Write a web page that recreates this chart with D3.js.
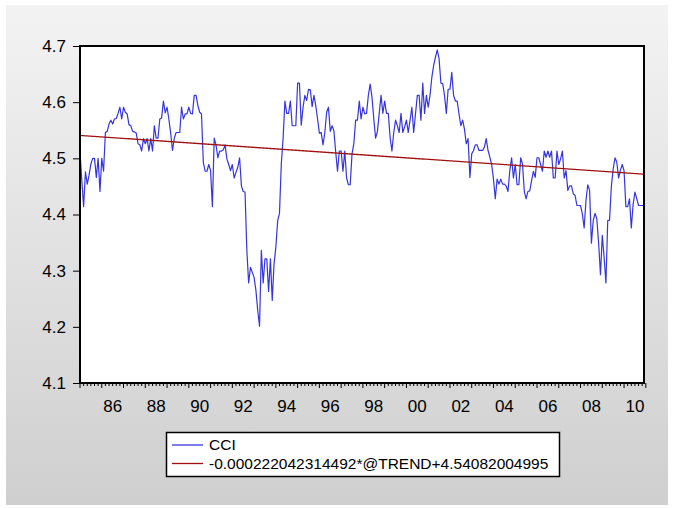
<!DOCTYPE html>
<html><head><meta charset="utf-8">
<script src="https://cdn.jsdelivr.net/npm/d3@7"></script>
<style>body{margin:0;background:#fff;}svg{display:block;font-family:"Liberation Sans",Arial,sans-serif;}</style>
</head><body><svg id="c" width="678" height="508"></svg>
<script>
const startYear = 1985;
const cci = [
4.513,4.46,4.414,4.476,4.454,4.47,4.49,4.50,4.50,4.466,4.50,4.441,
4.50,4.477,4.546,4.548,4.561,4.568,4.561,4.570,4.571,4.58,4.591,4.570,
4.591,4.582,4.579,4.560,4.558,4.548,4.547,4.545,4.526,4.524,4.513,4.535,
4.526,4.535,4.513,4.535,4.513,4.558,4.536,4.536,4.570,4.572,4.602,4.581,
4.591,4.570,4.545,4.514,4.536,4.546,4.546,4.546,4.591,4.570,4.579,4.579,
4.591,4.58,4.579,4.612,4.612,4.594,4.582,4.579,4.493,4.477,4.477,4.489,
4.478,4.414,4.536,4.524,4.501,4.513,4.513,4.515,4.524,4.499,4.489,4.478,
4.489,4.465,4.475,4.484,4.501,4.451,4.441,4.44,4.336,4.278,4.306,4.297,
4.288,4.265,4.229,4.201,4.336,4.278,4.321,4.321,4.263,4.321,4.247,4.312,
4.342,4.389,4.402,4.49,4.536,4.602,4.58,4.58,4.602,4.558,4.558,4.558,
4.634,4.634,4.559,4.591,4.612,4.603,4.623,4.622,4.592,4.612,4.594,4.57,
4.545,4.546,4.524,4.546,4.582,4.591,4.548,4.558,4.549,4.511,4.477,4.513,
4.513,4.477,4.513,4.465,4.453,4.453,4.508,4.526,4.568,4.568,4.602,4.57,
4.591,4.579,4.58,4.612,4.632,4.609,4.57,4.536,4.548,4.58,4.612,4.58,
4.602,4.58,4.58,4.537,4.513,4.546,4.568,4.558,4.546,4.58,4.546,4.556,
4.568,4.546,4.568,4.591,4.546,4.579,4.612,4.612,4.568,4.634,4.58,4.612,
4.591,4.612,4.644,4.665,4.68,4.693,4.677,4.634,4.633,4.612,4.58,4.623,
4.623,4.653,4.612,4.602,4.602,4.579,4.558,4.568,4.552,4.526,4.535,4.466,
4.508,4.514,4.524,4.524,4.514,4.514,4.514,4.52,4.535,4.514,4.502,4.489,
4.463,4.428,4.463,4.454,4.463,4.454,4.454,4.451,4.441,4.478,4.501,4.465,
4.489,4.453,4.453,4.501,4.49,4.441,4.428,4.441,4.442,4.46,4.477,4.466,
4.501,4.501,4.489,4.477,4.513,4.502,4.513,4.502,4.513,4.465,4.465,4.513,
4.489,4.499,4.513,4.465,4.478,4.443,4.451,4.451,4.437,4.434,4.416,4.416,
4.416,4.401,4.376,4.425,4.453,4.443,4.349,4.389,4.402,4.392,4.348,4.293,
4.363,4.324,4.278,4.389,4.39,4.45,4.481,4.501,4.493,4.465,4.479,4.489,
4.478,4.414,4.414,4.428,4.376,4.418,4.44,4.428,4.416,4.416,4.416,4.416
];
const trendSlope = -0.000222042314492;
const trendIntercept = 4.54082004995;
const yTicks = [4.1,4.2,4.3,4.4,4.5,4.6,4.7];
const xLabelYears = [1986,1988,1990,1992,1994,1996,1998,2000,2002,2004,2006,2008,2010];
const legendLabels = ["CCI","-0.000222042314492*@TREND+4.54082004995"];
const colors = ["#3535e0","#a01010"];

const svg = d3.select("#c");
const defs = svg.append("defs");
const g = defs.append("linearGradient").attr("id","bg").attr("x1",0).attr("y1",0).attr("x2",0).attr("y2",1);
g.append("stop").attr("offset","0%").attr("stop-color","#f3f3f3");
g.append("stop").attr("offset","100%").attr("stop-color","#cfcfcf");
svg.append("rect").attr("x",6).attr("y",5).attr("width",662).attr("height",500).attr("fill","url(#bg)");

const L=80,R=644,T=46,B=383;
const n = cci.length;
const x = d3.scaleLinear().domain([0,n-1]).range([L,R]);
const y = d3.scaleLinear().domain([4.1,4.7]).range([B,T]);

svg.append("rect").attr("x",L).attr("y",T).attr("width",R-L).attr("height",B-T).attr("fill","#fff");

const trend = cci.map((_,i)=>trendIntercept+trendSlope*i);
const line = d3.line().x((d,i)=>x(i)).y(d=>y(d));
svg.append("path").datum(cci).attr("d",line).attr("fill","none").attr("stroke",colors[0]).attr("stroke-width",1.2).attr("stroke-linejoin","round");
svg.append("path").datum(trend).attr("d",line).attr("fill","none").attr("stroke",colors[1]).attr("stroke-width",1.3);

const yAxis = d3.axisLeft(y).tickValues(yTicks).tickFormat(d3.format(".1f")).tickSize(7).tickPadding(7);
const ya = svg.append("g").attr("transform",`translate(${L},0)`).call(yAxis);
ya.select(".domain").remove();
ya.selectAll("line").attr("stroke","#000");
ya.selectAll("text").attr("font-size",17).attr("fill","#000").attr("font-family","Liberation Sans, Arial, sans-serif");

const minor = d3.range(0,n+1,2).filter(i=>i%12!==0);
const major = d3.range(0,n+1,12);
const xa = svg.append("g");
xa.selectAll(".mn").data(minor).join("line").attr("x1",d=>x(d)).attr("x2",d=>x(d)).attr("y1",B).attr("y2",B+3).attr("stroke","#000");
xa.selectAll(".mj").data(major).join("line").attr("x1",d=>x(d)).attr("x2",d=>x(d)).attr("y1",B).attr("y2",B+5).attr("stroke","#000");
xa.selectAll("text").data(xLabelYears).join("text")
  .attr("x",d=>x((d-startYear)*12+6)).attr("y",B+29).attr("text-anchor","middle").attr("font-size",17)
  .text(d=>String(d%100).padStart(2,"0"));

svg.append("rect").attr("x",L).attr("y",T).attr("width",R-L).attr("height",B-T).attr("fill","none").attr("stroke","#000").attr("stroke-width",2);

const lg = svg.append("g");
lg.append("rect").attr("x",166.5).attr("y",432.5).attr("width",393).attr("height",44).attr("fill","#fff").attr("stroke","#000").attr("stroke-width",1.5);
legendLabels.forEach((t,i)=>{
  const yy = 445 + i*18.5;
  lg.append("line").attr("x1",172).attr("x2",203).attr("y1",yy).attr("y2",yy).attr("stroke",colors[i]).attr("stroke-width",1.3);
  lg.append("text").attr("x",209).attr("y",yy+5).attr("font-size",15.5).attr("fill","#000").text(t);
});
</script></body></html>
